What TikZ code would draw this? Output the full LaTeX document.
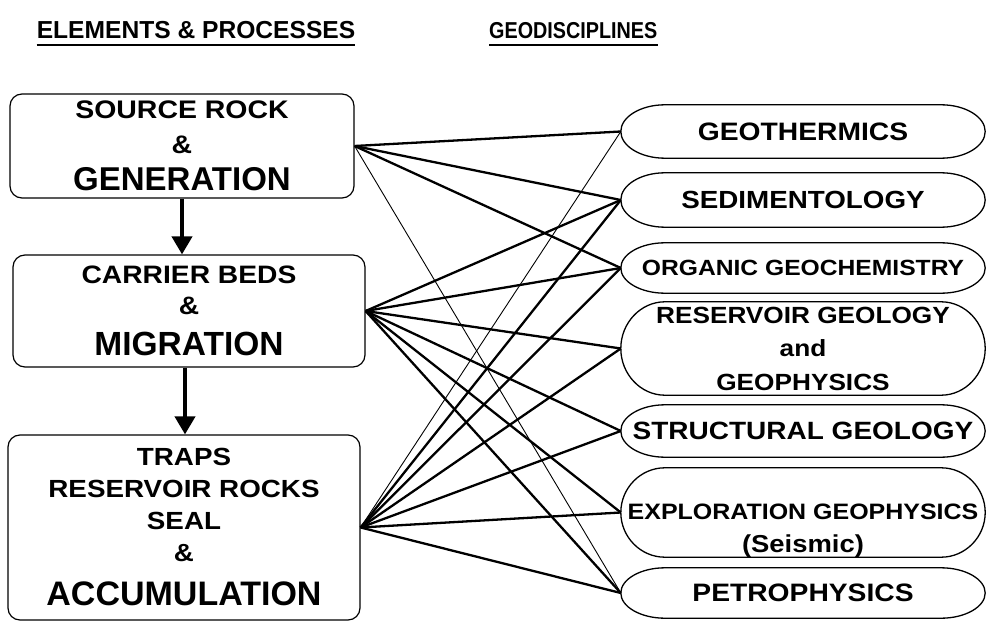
\documentclass[tikz,border=0pt]{standalone}
\usepackage{fontspec}
\setmainfont{Liberation Sans}[FakeStretch=1.12]
\newfontfamily\plainsans{Liberation Sans}
\newfontfamily\narrowsans{Liberation Sans}[FakeStretch=0.86]
\usepackage{tikz}
\usetikzlibrary{arrows.meta, positioning, calc}
\tikzset{
  procbox/.style={rectangle, draw, rounded corners=12pt, line width=1.2pt,
    align=center, inner sep=0pt},
  disc/.style={rectangle, minimum width=364pt, inner sep=0pt, align=center},
  discline/.style={line width=1.3pt},
  flow/.style={-{Triangle[width=20pt,length=18pt]}, line width=4pt},
  link/.style={line width=2.3pt},
  thinlink/.style={line width=0.9pt},
  header/.style={inner sep=0pt, font=\plainsans\bfseries\fontsize{24.6}{28}\selectfont},
  uline/.style={line width=2pt}
}

\begin{document}
\begin{tikzpicture}[x=1pt, y=-1pt]
  \useasboundingbox (0,0) rectangle (987,628);

  % Headers
  \node[header, anchor=base] (hd1) at (196,39) {ELEMENTS \& PROCESSES};
  \node[header, anchor=base west] (hd2) at (489,39) {\narrowsans\fontsize{23}{28}\selectfont GEODISCIPLINES};
  \draw[uline] ([yshift=-6pt]hd1.base west) -- ([yshift=-6pt]hd1.base east);
  \draw[uline] ([yshift=-6pt]hd2.base west) -- ([yshift=-6pt]hd2.base east);

  % Elements and processes
  \node[procbox, minimum width=344pt, minimum height=104pt,
    font={\bfseries\fontsize{25.4}{35}\selectfont}] (b1) at (182,146)
    {SOURCE ROCK\\\&\\[2pt]{\plainsans\bfseries\fontsize{33}{33}\selectfont GENERATION}};
  \node[procbox, minimum width=352pt, minimum height=112pt,
    font={\bfseries\fontsize{25.2}{31}\selectfont}] (b2) at (189,311)
    {CARRIER BEDS\\\&\\[10pt]{\plainsans\bfseries\fontsize{33.5}{33}\selectfont MIGRATION}};
  \node[procbox, minimum width=352pt, minimum height=185pt,
    font={\bfseries\fontsize{24.8}{32}\selectfont}] (b3) at (184,527.5)
    {TRAPS\\RESERVOIR ROCKS\\SEAL\\\&\\[12pt]{\plainsans\bfseries\fontsize{34}{33}\selectfont ACCUMULATION}};

  \draw[flow] (b1.south) -- (b1.south |- b2.north);
  \draw[flow] ([xshift=-4pt]b2.south) -- ([xshift=-4pt]b2.south |- b3.north);

  % Geodisciplines
  \node[disc, minimum height=53pt, font={\bfseries\fontsize{25.2}{27}\selectfont}] (geo) at (803,131.5) {GEOTHERMICS};
  \node[disc, minimum height=54pt, font={\bfseries\fontsize{24.8}{27}\selectfont}] (sed) at (803,200) {SEDIMENTOLOGY};
  \node[disc, minimum height=50pt, font={\bfseries\fontsize{22}{27}\selectfont}] (org) at (803,268) {ORGANIC GEOCHEMISTRY};
  \node[disc, minimum height=93pt, font={\bfseries\fontsize{23.4}{33.5}\selectfont}] (res) at (803,348.5) {RESERVOIR GEOLOGY\\and\\GEOPHYSICS};
  \node[disc, minimum height=52pt, font={\bfseries\fontsize{25}{27}\selectfont}] (str) at (803,431) {STRUCTURAL GEOLOGY};
  \node[disc, minimum height=89pt] (exp) at (803,512.5) {};
  \node[disc, minimum height=0pt, font={\bfseries\fontsize{22.3}{33}\selectfont}] (expt) at (803,531)
    {EXPLORATION GEOPHYSICS\\{\fontsize{24.5}{24}\selectfont (Seismic)}};
  \node[disc, minimum height=50pt, font={\bfseries\fontsize{25.2}{27}\selectfont}] (pet) at (803,593) {PETROPHYSICS};

  \foreach \n in {geo,sed,org,res,str,exp,pet}
    \draw[discline] (\n.west) .. controls ($(\n.west)!0.55!(\n.north west)$) and ([xshift=20pt]\n.north west) .. ([xshift=44pt]\n.north west)
      -- ([xshift=-44pt]\n.north east) .. controls ([xshift=-20pt]\n.north east) and ($(\n.east)!0.55!(\n.north east)$) .. (\n.east)
      .. controls ($(\n.east)!0.55!(\n.south east)$) and ([xshift=-20pt]\n.south east) .. ([xshift=-44pt]\n.south east)
      -- ([xshift=44pt]\n.south west) .. controls ([xshift=20pt]\n.south west) and ($(\n.west)!0.55!(\n.south west)$) .. (\n.west);

  % Links
  \foreach \t in {geo,sed,org}
    \draw[link] (b1.east) -- (\t.west);
  \draw[thinlink] (b1.east) -- (pet.west);
  \foreach \t in {sed,org,res,str,exp,pet}
    \draw[link] (b2.east) -- (\t.west);
  \draw[thinlink] (b3.east) -- (geo.west);
  \foreach \t in {sed,org,res,str,exp,pet}
    \draw[link] (b3.east) -- (\t.west);
\end{tikzpicture}
\end{document}
